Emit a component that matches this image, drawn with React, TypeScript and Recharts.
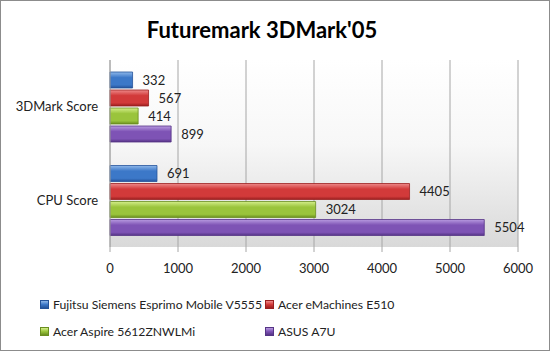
import React from "react";
import { BarChart, Bar, XAxis, YAxis, CartesianGrid, LabelList, Legend } from "recharts";

const categories = ["3DMark Score", "CPU Score"];
const seriesNames = [
  "Fujitsu Siemens Esprimo Mobile V5555",
  "Acer eMachines E510",
  "Acer Aspire 5612ZNWLMi",
  "ASUS A7U",
];
const fujitsu = [332, 691];
const emachines = [567, 4405];
const aspire = [414, 3024];
const asus = [899, 5504];
const xTicks = [0, 1000, 2000, 3000, 4000, 5000, 6000];

const seriesValues = [fujitsu, emachines, aspire, asus];
const keys = ["s0", "s1", "s2", "s3"];
const colors = [
  { light: "#8fb8ea", main: "#3c78c8", dark: "#24539a" },
  { light: "#ee8a8a", main: "#d23a3a", dark: "#9a1f1f" },
  { light: "#d4ee8a", main: "#9ac43c", dark: "#6a8e1f" },
  { light: "#b89ae0", main: "#7e53b5", dark: "#553485" },
];

const data = categories.map((c, i) => {
  const row: any = { name: c };
  keys.forEach((k, j) => (row[k] = seriesValues[j][i]));
  return row;
});

const font = "Lato, 'Noto Sans', sans-serif";

const LegendContent = () => {
  const pos = [
    { left: 40, top: 0 },
    { left: 265, top: 0 },
    { left: 40, top: 27 },
    { left: 265, top: 27 },
  ];
  return (
    <div style={{ position: "relative", width: 548, height: 50, fontFamily: font, fontSize: 12.2, color: "#222" }}>
      {seriesNames.map((n, i) => (
        <div key={n} style={{ position: "absolute", left: pos[i].left - 1, top: pos[i].top, display: "flex", alignItems: "center", whiteSpace: "nowrap" }}>
          <span
            style={{
              display: "inline-block",
              width: 7,
              height: 7,
              marginRight: 4,
              background: `linear-gradient(${colors[i].light}, ${colors[i].main} 50%, ${colors[i].dark})`,
              border: `1px solid ${colors[i].dark}`,
            }}
          />
          {n}
        </div>
      ))}
    </div>
  );
};

export default function App() {
  return (
    <div
      style={{
        position: "absolute",
        left: 0,
        top: 0,
        width: 550,
        height: 351,
        boxSizing: "border-box",
        border: "1px solid #8c8c8c",
        background: "#fff",
      }}
    >
      <div
        style={{
          position: "absolute",
          left: -39,
          top: 15,
          width: 600,
          textAlign: "center",
          fontFamily: font,
          fontWeight: 700,
          fontSize: 22,
          color: "#000",
        }}
      >
        Futuremark 3DMark'05
      </div>
      <BarChart
        width={548}
        height={349}
        data={data}
        layout="vertical"
        margin={{ top: 59, right: 31, left: 0, bottom: 73 }}
        barSize={16}
        barGap={2}
      >
        <defs>
          <linearGradient id="bg" x1="0" y1="0" x2="0" y2="1">
            <stop offset="0%" stopColor="#ffffff" />
            <stop offset="45%" stopColor="#f7f7f7" />
            <stop offset="100%" stopColor="#d9d9d9" />
          </linearGradient>
          {colors.map((c, i) => (
            <linearGradient key={i} id={`g${i}`} x1="0" y1="0" x2="0" y2="1">
              <stop offset="0%" stopColor={c.light} />
              <stop offset="35%" stopColor={c.main} />
              <stop offset="80%" stopColor={c.main} />
              <stop offset="100%" stopColor={c.dark} />
            </linearGradient>
          ))}
        </defs>
        <CartesianGrid horizontal={false} stroke="#a6a6a6" fill="url(#bg)" />
        <XAxis
          type="number"
          domain={[0, 6000]}
          ticks={xTicks}
          interval={0}
          height={30}
          tickSize={5}
          tickMargin={12}
          axisLine={false}
          tickLine={{ stroke: "#a6a6a6" }}
          tick={{ fontFamily: font, fontSize: 13, fill: "#222" }}
        />
        <YAxis
          type="category"
          dataKey="name"
          width={109}
          tickSize={4}
          tickMargin={8}
          axisLine={{ stroke: "#a6a6a6" }}
          tickLine={false}
          tick={{ fontFamily: font, fontSize: 13, fill: "#222" }}
        />
        <Legend
          layout="horizontal"
          verticalAlign="middle"
          align="center"
          content={<LegendContent />}
          wrapperStyle={{ position: "absolute", left: 0, top: 296, width: 548 }}
        />
        {keys.map((k, i) => (
          <Bar
            key={k}
            dataKey={k}
            name={seriesNames[i]}
            fill={`url(#g${i})`}
            stroke={colors[i].dark}
            strokeWidth={0.8}
            isAnimationActive={false}
          >
            <LabelList
              dataKey={k}
              position="right"
              offset={10}
              style={{ fontFamily: font, fontSize: 13, fill: "#222" }}
            />
          </Bar>
        ))}
      </BarChart>
    </div>
  );
}
